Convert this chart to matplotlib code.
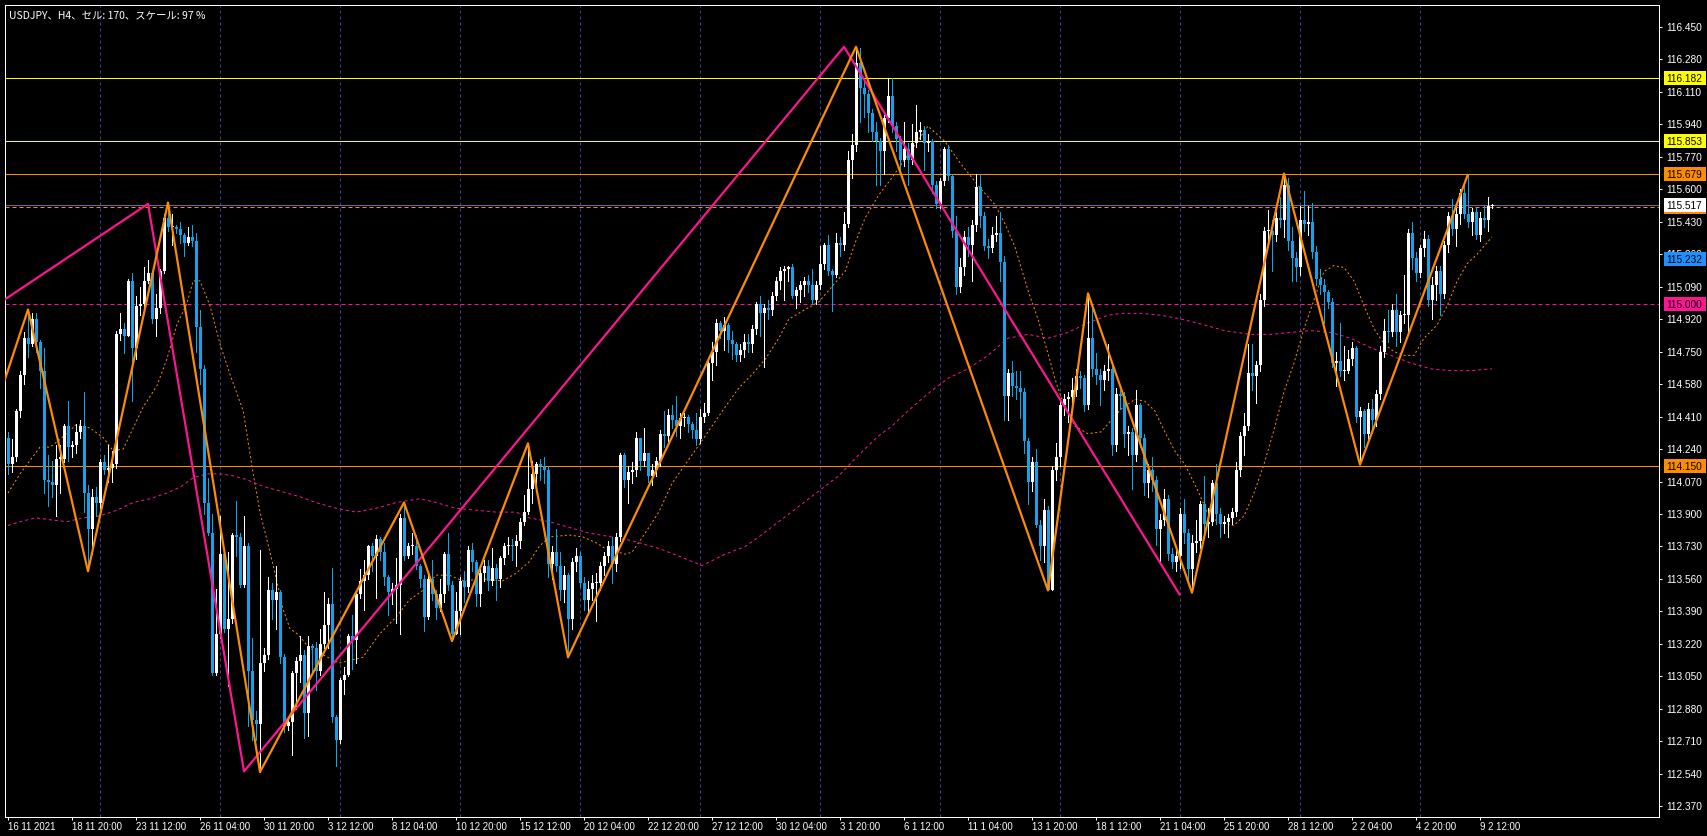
import numpy as np
import matplotlib
matplotlib.use("Agg")
import matplotlib.pyplot as plt
from matplotlib.patches import Rectangle

plt.rcParams['font.family'] = ['Liberation Sans', 'DejaVu Sans']

# ---------------- data (USDJPY H4, bar index 0 = 16 Nov 2021 04:00) ----------------
first_open = 114.30
close = [
 114.16,114.20,114.44,114.63,114.82,114.79,114.92,114.80,114.65,114.08,
 114.07,114.05,114.19,114.19,114.36,114.25,114.26,114.33,114.36,114.01,
 113.82,113.99,113.96,114.17,114.13,114.14,114.16,114.84,114.87,114.83,
 115.12,114.77,114.99,115.00,115.12,115.16,114.92,114.98,115.17,115.45,
 115.40,115.40,115.39,115.36,115.32,115.35,115.33,114.88,114.66,113.96,
 113.80,113.07,113.27,113.69,113.30,113.35,113.79,113.78,113.53,113.73,
 113.08,112.82,112.80,113.12,113.16,113.50,113.45,113.49,113.15,112.79,
 112.81,113.07,113.13,113.16,112.86,113.21,113.20,113.08,113.22,113.32,
 113.43,112.84,112.72,113.03,113.06,113.26,113.24,113.48,113.55,113.58,
 113.73,113.68,113.77,113.70,113.57,113.49,113.51,113.53,113.88,113.68,
 113.73,113.73,113.63,113.56,113.36,113.56,113.48,113.41,113.48,113.69,
 113.53,113.27,113.39,113.55,113.52,113.71,113.65,113.48,113.59,113.63,
 113.55,113.62,113.56,113.67,113.73,113.74,113.73,113.76,113.86,113.91,
 114.03,114.11,114.16,114.15,114.13,113.64,113.70,113.63,113.50,113.58,
 113.35,113.65,113.68,113.54,113.45,113.51,113.54,113.54,113.63,113.68,
 113.73,113.64,113.78,114.21,114.08,114.12,114.13,114.30,114.18,114.22,
 114.10,114.13,114.18,114.32,114.31,114.42,114.39,114.36,114.40,114.41,
 114.37,114.34,114.29,114.41,114.43,114.69,114.75,114.90,114.86,114.89,
 114.81,114.79,114.73,114.76,114.80,114.79,114.87,115.00,114.95,114.98,
 114.97,115.04,115.12,115.17,115.18,115.19,115.04,115.07,115.10,115.12,
 115.10,115.02,115.10,115.21,115.31,115.17,115.15,115.32,115.31,115.42,
 115.75,115.83,116.26,116.13,116.10,116.00,115.90,115.85,115.80,115.97,
 116.09,115.93,115.86,115.75,115.81,115.75,115.84,115.90,115.91,115.84,
 115.85,115.62,115.52,115.64,115.81,115.67,115.38,115.09,115.19,115.35,
 115.31,115.41,115.61,115.46,115.30,115.29,115.36,115.37,115.22,114.52,
 114.64,114.57,114.56,114.54,114.28,114.07,114.17,113.84,113.73,113.92,
 113.50,114.13,114.20,114.47,114.50,114.51,114.55,114.62,114.61,114.47,
 114.82,114.66,114.63,114.60,114.65,114.66,114.26,114.53,114.52,114.32,
 114.33,114.21,114.47,114.30,114.06,114.13,114.08,113.82,113.87,113.98,
 113.69,113.65,113.68,113.90,113.80,113.61,113.75,113.76,113.95,113.85,
 113.86,114.06,113.90,113.85,113.86,113.88,113.91,114.13,114.31,114.36,
 114.64,114.62,114.68,115.02,115.38,115.38,115.36,115.45,115.44,115.62,
 115.33,115.24,115.19,115.44,115.42,115.43,115.27,115.13,115.10,115.06,
 115.01,114.69,114.70,114.65,114.65,114.71,114.77,114.41,114.44,114.32,
 114.45,114.39,114.53,114.75,114.86,114.85,114.97,114.85,114.94,114.94,
 115.37,115.24,115.16,115.29,115.34,115.02,115.10,115.17,115.05,115.31,
 115.46,115.39,115.47,115.58,115.47,115.43,115.48,115.36,115.45,115.44,
 115.51,115.517]
high = [
 114.33,114.29,114.45,114.65,114.85,114.97,114.95,114.95,114.81,114.77,
 114.21,114.18,114.26,114.26,114.37,114.49,114.28,114.37,114.39,114.54,
 114.05,114.03,114.04,114.19,114.21,114.26,114.23,114.86,114.95,114.90,
 115.13,115.16,115.04,115.09,115.19,115.23,115.16,115.05,115.18,115.47,
 115.53,115.47,115.41,115.43,115.37,115.40,115.41,115.37,114.97,114.68,
 114.09,113.90,113.51,113.89,113.72,113.70,113.80,113.97,113.80,113.89,
 113.75,113.25,112.87,113.71,113.20,113.57,113.54,113.63,113.50,113.17,
 112.84,113.08,113.15,113.26,113.19,113.26,113.22,113.23,113.30,113.49,
 113.46,113.62,112.85,113.04,113.10,113.27,113.37,113.49,113.61,113.66,
 113.74,113.75,113.79,113.78,113.75,113.58,113.54,113.67,113.90,113.96,
 113.75,113.80,113.79,113.64,113.58,113.58,113.66,113.50,113.56,113.70,
 113.80,113.55,113.49,113.57,113.60,113.73,113.75,113.66,113.62,113.66,
 113.66,113.72,113.64,113.68,113.75,113.78,113.77,113.79,113.88,114.00,
 114.27,114.18,114.17,114.19,114.20,114.15,113.73,113.82,113.70,113.63,
 113.59,113.67,113.72,113.70,113.57,113.55,113.58,113.59,113.65,113.70,
 113.76,113.78,113.80,114.22,114.22,114.15,114.17,114.33,114.30,114.35,
 114.16,114.16,114.20,114.34,114.44,114.45,114.47,114.52,114.43,114.43,
 114.42,114.38,114.43,114.45,114.48,114.70,114.80,114.92,114.91,114.93,
 114.90,114.86,114.80,114.79,114.84,114.84,114.89,115.01,115.04,115.00,
 115.02,115.06,115.14,115.19,115.20,115.20,115.21,115.09,115.12,115.14,
 115.15,115.18,115.12,115.30,115.32,115.36,115.18,115.37,115.35,115.48,
 115.80,115.89,116.345,116.34,116.17,116.12,116.02,115.95,115.87,115.99,
 116.18,116.18,115.95,115.88,115.95,115.84,115.94,116.04,115.95,115.93,
 115.89,115.86,115.64,115.66,115.82,115.83,115.68,115.46,115.24,115.38,
 115.40,115.44,115.68,115.68,115.48,115.34,115.40,115.46,115.48,115.25,
 114.66,114.70,114.65,114.65,114.56,114.30,114.20,114.24,113.87,113.98,
 113.94,114.15,114.27,114.49,114.53,114.54,114.61,114.66,114.65,114.63,
 115.055,114.98,114.74,114.66,114.68,114.79,114.68,114.56,114.55,114.54,
 114.36,114.35,114.55,114.48,114.32,114.16,114.20,114.10,113.90,114.03,
 114.00,113.72,113.71,113.93,113.98,113.82,113.79,113.87,113.97,114.10,
 113.93,114.08,114.16,113.93,113.89,113.90,113.93,114.17,114.33,114.43,
 114.79,114.79,114.70,115.05,115.40,115.49,115.44,115.48,115.56,115.682,
 115.66,115.40,115.27,115.51,115.59,115.51,115.53,115.30,115.18,115.13,
 115.07,115.03,114.75,114.90,114.78,114.76,114.80,114.78,114.46,114.45,
 114.48,114.50,114.55,114.78,114.92,114.97,115.00,115.05,114.96,115.15,
 115.39,115.43,115.27,115.31,115.38,115.36,115.14,115.20,115.20,115.33,
 115.48,115.55,115.50,115.60,115.62,115.68,115.50,115.50,115.48,115.51,
 115.56,115.52]
low = [
 114.11,114.12,114.18,114.41,114.58,114.72,114.78,114.75,114.56,114.01,
 113.94,113.99,113.89,114.01,114.17,114.18,114.20,114.22,114.30,113.91,
 113.60,113.69,113.89,113.93,114.11,114.07,114.07,114.14,114.81,114.74,
 114.83,114.49,114.71,114.94,114.98,115.11,114.90,114.83,114.95,115.16,
 115.38,115.31,115.37,115.32,115.25,115.31,115.30,114.75,114.58,113.90,
 113.79,113.06,113.06,113.25,113.28,113.00,113.33,113.68,113.52,113.52,
 112.79,112.72,112.72,112.55,113.08,113.14,113.35,113.30,113.12,112.76,
 112.77,112.64,112.88,113.02,112.73,112.74,113.07,112.98,113.06,113.20,
 113.20,112.81,112.58,112.70,112.96,113.05,113.09,113.12,113.46,113.40,
 113.56,113.60,113.46,113.66,113.53,113.37,113.43,113.33,113.27,113.66,
 113.67,113.69,113.61,113.52,113.29,113.35,113.45,113.35,113.39,113.44,
 113.50,113.235,113.33,113.27,113.44,113.49,113.60,113.42,113.42,113.55,
 113.50,113.53,113.45,113.52,113.64,113.69,113.66,113.63,113.72,113.84,
 113.90,113.96,114.05,114.08,114.06,113.57,113.56,113.60,113.45,113.44,
 113.15,113.30,113.60,113.52,113.40,113.37,113.45,113.34,113.50,113.58,
 113.65,113.54,113.60,113.76,114.04,113.96,114.06,114.10,114.13,114.15,
 114.07,114.05,114.10,114.15,114.25,114.28,114.35,114.31,114.30,114.36,
 114.33,114.30,114.26,114.27,114.38,114.42,114.60,114.68,114.82,114.76,
 114.75,114.71,114.70,114.70,114.72,114.75,114.75,114.84,114.83,114.67,
 114.92,114.94,115.02,115.08,115.02,115.12,115.03,114.98,115.01,115.04,
 115.06,115.00,115.00,115.08,115.18,115.15,114.96,115.14,115.25,115.28,
 115.40,115.66,115.80,115.95,115.98,115.90,115.85,115.62,115.62,115.68,
 115.95,115.90,115.80,115.69,115.72,115.62,115.73,115.82,115.86,115.70,
 115.80,115.58,115.50,115.50,115.62,115.65,115.35,115.05,115.06,115.15,
 115.25,115.12,115.38,115.40,115.28,115.24,115.27,115.33,115.12,114.39,
 114.39,114.52,114.50,114.40,114.22,113.95,114.02,113.83,113.66,113.65,
 113.50,113.50,114.08,114.15,114.42,114.38,114.47,114.52,114.56,114.44,
 114.45,114.62,114.58,114.47,114.55,114.60,114.21,114.23,114.45,114.25,
 114.21,114.03,114.18,114.25,114.00,113.99,114.02,113.74,113.65,113.84,
 113.66,113.62,113.60,113.62,113.75,113.55,113.49,113.70,113.72,113.80,
 113.78,113.84,113.85,113.78,113.80,113.78,113.85,113.89,114.10,114.21,
 114.34,114.55,114.48,114.65,114.99,115.30,115.17,115.33,115.40,115.35,
 115.28,115.12,115.12,115.15,115.38,115.36,115.24,115.10,115.05,114.90,
 114.98,114.67,114.57,114.62,114.60,114.64,114.68,114.38,114.16,114.25,
 114.28,114.33,114.36,114.50,114.72,114.80,114.83,114.78,114.80,114.90,
 114.86,115.18,115.12,115.14,115.25,114.99,114.92,115.02,114.94,115.03,
 115.27,115.36,115.30,115.42,115.45,115.40,115.36,115.34,115.33,115.40,
 115.38,115.50]

# fast moving average (orange dotted), read at bar positions
ma_fast_bar = [0,3,5.5,8,10.5,13,17.2,20.5,23.8,26.3,28.8,31.3,33.8,37.2,39.7,42.2,44.7,46.3,48,50.5,
               53,55.5,58.8,61.3,63,65.5,67.2,68.8,70.5,72.5,75.3,82.8,88.7,92.8,97,100.3,103.7,107,110.3,113.7,
               118.7,123.7,127,130.3,132.8,135.3,140.3,143.7,147,149.3,154.3,156,159.3,162.7,166,169.3,172.7,176,179.3,182.7,
               186,189.3,192.7,195.2,199.3,202.7,206,209.3,211.8,214.3,217.7,221,230,234.2,238.3,243.3,246.7,249.2,251.7,255,
               257.5,260,261.7,263.3,266.7,270,273.3,275.8,278.3,281.7,284.2,286.7,289.2,291.7,294.2,297.3,299.8,302.3,306.5,309,
               311.5,314,316.5,319,321.5,324,326.5,329,331.5,334,336.5,339,341.5,344,346.5,349,351.5,354,357.3,359.8,
               362.3,364.8,367.3,371]
ma_fast_val = [114.01,114.11,114.18,114.25,114.25,114.29,114.37,114.35,114.30,114.23,114.24,114.35,114.46,114.57,114.71,114.89,115.00,115.12,115.12,114.99,
               114.79,114.63,114.44,114.11,113.91,113.70,113.55,113.40,113.30,113.27,113.20,113.12,113.15,113.27,113.36,113.45,113.50,113.58,113.58,113.55,
               113.56,113.55,113.59,113.65,113.73,113.78,113.79,113.78,113.75,113.72,113.69,113.70,113.80,113.91,114.06,114.16,114.26,114.36,114.46,114.56,
               114.63,114.71,114.82,114.92,114.97,115.01,115.09,115.17,115.32,115.45,115.57,115.66,115.93,115.85,115.73,115.60,115.52,115.42,115.30,115.07,
               114.92,114.74,114.61,114.51,114.36,114.32,114.33,114.39,114.45,114.50,114.49,114.44,114.33,114.23,114.16,114.03,113.91,113.86,113.84,113.89,
               114.01,114.16,114.34,114.54,114.69,114.87,115.02,115.17,115.20,115.19,115.12,114.99,114.87,114.79,114.75,114.73,114.73,114.82,114.89,114.99,
               115.12,115.21,115.26,115.35]

# slow moving average (pink dashed)
ma_slow_bar = [0,3,7,10.5,14.7,18.8,23,27.2,31.3,35.5,39.7,43,46.3,49.7,53,56.3,59.7,63,66.3,69.7,
               73,77,82,87,92,97,103,107,112,117,122,127,130.3,135.3,140.3,145.3,151,156,162.7,167.7,
               173.5,179.3,184.3,187.7,192.7,197.7,202.7,207.7,212.7,217.7,221,225,230,235,240,245,250,255,260,265,
               270,275,278.3,283.3,288.3,293.3,299,304,310.7,315.7,320.7,325.7,330.7,335.7,340.7,345.7,350.7,355.7,360.7,365.7,371]
ma_slow_val = [113.84,113.86,113.88,113.87,113.86,113.88,113.89,113.92,113.96,113.98,114.01,114.04,114.09,114.11,114.11,114.10,114.08,114.05,114.03,114.01,
               113.99,113.96,113.93,113.91,113.93,113.96,113.98,113.96,113.93,113.92,113.91,113.91,113.88,113.86,113.83,113.80,113.78,113.76,113.72,113.68,
               113.63,113.69,113.73,113.78,113.86,113.94,114.02,114.10,114.21,114.31,114.36,114.44,114.53,114.61,114.66,114.73,114.82,114.84,114.82,114.85,
               114.90,114.94,114.95,114.95,114.94,114.92,114.89,114.86,114.84,114.84,114.85,114.86,114.85,114.82,114.77,114.73,114.69,114.66,114.65,114.65,114.66]

# zigzag swings
zz_small_bar = [-1, 5, 20, 40, 63, 99, 111, 130, 140, 212, 260, 270, 296, 319, 338, 365]
zz_small_val = [114.59, 114.97, 113.60, 115.53, 112.55, 113.96, 113.235, 114.27, 113.15, 116.345,
                113.50, 115.055, 113.488, 115.682, 114.158, 115.679]
zz_big_bar = [-1, 35, 59, 209, 293]
zz_big_val = [115.02, 115.523, 112.553, 116.345, 113.475]

# horizontal levels
level_yellow = [116.182, 115.853]
level_orange = [115.679, 114.150]
level_orange_dashed = 115.505
level_bid = 115.517
level_pink = 115.000
label_blue = 115.232

x_labels = ["16 11 2021", "18 11 20:00", "23 11 12:00", "26 11 04:00", "30 11 20:00", "3 12 12:00",
            "8 12 04:00", "10 12 20:00", "15 12 12:00", "20 12 04:00", "22 12 20:00", "27 12 12:00",
            "30 12 04:00", "3 1 20:00", "6 1 12:00", "11 1 04:00", "13 1 20:00", "18 1 12:00",
            "21 1 04:00", "25 1 20:00", "28 1 12:00", "2 2 04:00", "4 2 20:00", "9 2 12:00"]
x_label_bars = list(range(0, 16 * len(x_labels), 16))
week_start_bars = list(range(23, len(close), 30))
y_ticks = np.round(np.arange(112.370, 116.4501, 0.170), 3)

# ---------------- styling ----------------
BLUE = '#12a4ea'
ORANGE = '#ff8c00'
PINK = '#ff1493'
YELLOW = '#ffff00'
GRID = '#40409a'
BIDC = '#6a6a9a'
PX = 0.72  # one pixel in points at dpi 100

W, H = 1707, 836
L, R, T, B = 5, 1659, 5, 817
fig = plt.figure(figsize=(W / 100, H / 100), dpi=100, facecolor='black')
ax = fig.add_axes([L / W, (H - B) / H, (R - L) / W, (B - T) / H])
ax.set_facecolor('black')
ax.set_xlim(-0.75, 412.75)
ax.set_ylim(112.3145, 116.5636)

for g in week_start_bars:
    ax.axvline(g, color=GRID, lw=PX, linestyle=(0, (3, 3)), zorder=0.5)

for lv in level_yellow:
    ax.axhline(lv, color=YELLOW, lw=PX, zorder=1)
for lv in level_orange:
    ax.axhline(lv, color=ORANGE, lw=PX, zorder=1)
ax.axhline(level_bid, color=BIDC, lw=PX, zorder=1)
ax.axhline(level_orange_dashed, color=ORANGE, lw=PX, linestyle=(0, (4, 3)), zorder=1)
ax.axhline(level_pink, color=PINK, lw=PX, linestyle=(0, (4, 3)), zorder=1)

ax.plot(ma_fast_bar, ma_fast_val, color=ORANGE, lw=PX, linestyle=(0, (2, 2.5)), zorder=2)
ax.plot(ma_slow_bar, ma_slow_val, color=PINK, lw=PX, linestyle=(0, (3, 3)), zorder=2)

c = np.array(close)
o = np.concatenate([[first_open], c[:-1]])
hh = np.maximum(np.array(high), np.maximum(o, c))
ll = np.minimum(np.array(low), np.minimum(o, c))
idx = np.arange(len(c))
cols = np.where(c >= o, 'white', BLUE)
ax.vlines(idx, ll, hh, colors=cols, lw=PX, antialiased=False, zorder=3)
bh = np.maximum(np.abs(c - o), 0.006)
ax.bar(idx, bh, bottom=np.minimum(o, c), width=0.75, color=cols, linewidth=0,
       antialiased=False, zorder=3)

ax.plot(zz_big_bar, zz_big_val, color=PINK, lw=2.2 * PX, zorder=4, solid_capstyle='butt')
ax.plot(zz_small_bar, zz_small_val, color=ORANGE, lw=2.2 * PX, zorder=4, solid_capstyle='butt')

for s in ax.spines.values():
    s.set_color('white')
    s.set_linewidth(PX)

ax.yaxis.tick_right()
ax.set_yticks(y_ticks)
ax.set_yticklabels([f"{v:.3f}" for v in y_ticks])
ax.tick_params(axis='y', colors='white', length=2.2, width=PX, pad=2.8, labelsize=7.3)
ax.set_xticks(x_label_bars)
ax.set_xticklabels(x_labels, ha='left')
ax.tick_params(axis='x', colors='white', length=2.2, width=PX, pad=1.5, labelsize=6.9)

_z = [5]


def price_label(price, face, tcolor='black', show_text=True):
    yd = ax.transData.transform((0, price))[1]
    fig.add_artist(Rectangle((1664 / W, (yd - 7) / H), 42 / W, 14 / H, transform=fig.transFigure,
                             facecolor=face, edgecolor='none', zorder=_z[0]))
    if show_text:
        fig.text(1666 / W, yd / H, f"{price:.3f}", color=tcolor, fontsize=7.3,
                 va='center_baseline', ha='left', zorder=_z[0] + 1)
    _z[0] += 2


for lv in level_yellow:
    price_label(lv, YELLOW)
for lv in level_orange:
    price_label(lv, ORANGE)
# orange dashed level label is hidden under the bid label in the reference
price_label(level_orange_dashed, ORANGE, show_text=False)
price_label(level_bid, 'white')
price_label(label_blue, '#1e90ff')
price_label(level_pink, PINK)

fig.text(9 / W, 1 - 15 / H, "USDJPY、H4、セル: 170、スケール: 97 %", color='white', fontsize=7.5,
         family=['Noto Sans CJK JP', 'DejaVu Sans'], va='center', ha='left')

fig.savefig('out.png', dpi=100, facecolor='black')
